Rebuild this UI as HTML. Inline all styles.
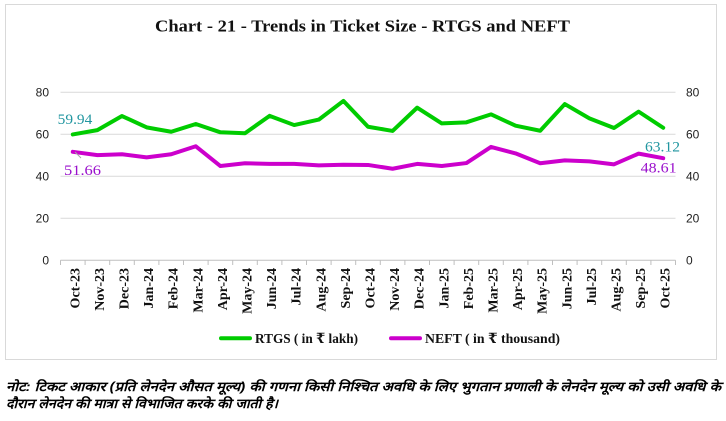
<!DOCTYPE html>
<html>
<head>
<meta charset="utf-8">
<style>
  html,body{margin:0;padding:0;background:#fff;}
  svg{display:block;}
</style>
</head>
<body>
<svg width="726" height="421" viewBox="0 0 726 421" xmlns="http://www.w3.org/2000/svg">
  <rect x="0" y="0" width="726" height="421" fill="#fff"/>
  <!-- chart border -->
  <rect x="5.5" y="4.5" width="711" height="355" fill="#fff" stroke="#d9d9d9" stroke-width="1"/>

  <!-- title -->
  <text x="362.5" y="31.7" text-anchor="middle" font-family="'Liberation Serif', serif" font-weight="bold" font-size="16.5" fill="#111" textLength="415" lengthAdjust="spacingAndGlyphs">Chart - 21 - Trends in Ticket Size - RTGS and NEFT</text>

  <!-- gridlines -->
  <g stroke="#d9d9d9" stroke-width="1">
    <line x1="60.5" y1="92.3" x2="675.5" y2="92.3"/>
    <line x1="60.5" y1="134.3" x2="675.5" y2="134.3"/>
    <line x1="60.5" y1="176.3" x2="675.5" y2="176.3"/>
    <line x1="60.5" y1="218.3" x2="675.5" y2="218.3"/>
  </g>
  <!-- x axis -->
  <g stroke="#bfbfbf" stroke-width="1">
    <line x1="60.5" y1="260.3" x2="675.5" y2="260.3"/>
    <line x1="60.5" y1="260.3" x2="60.5" y2="265"/>
    <line x1="85.1" y1="260.3" x2="85.1" y2="265"/>
    <line x1="109.7" y1="260.3" x2="109.7" y2="265"/>
    <line x1="134.3" y1="260.3" x2="134.3" y2="265"/>
    <line x1="158.9" y1="260.3" x2="158.9" y2="265"/>
    <line x1="183.5" y1="260.3" x2="183.5" y2="265"/>
    <line x1="208.1" y1="260.3" x2="208.1" y2="265"/>
    <line x1="232.7" y1="260.3" x2="232.7" y2="265"/>
    <line x1="257.3" y1="260.3" x2="257.3" y2="265"/>
    <line x1="281.9" y1="260.3" x2="281.9" y2="265"/>
    <line x1="306.5" y1="260.3" x2="306.5" y2="265"/>
    <line x1="331.1" y1="260.3" x2="331.1" y2="265"/>
    <line x1="355.7" y1="260.3" x2="355.7" y2="265"/>
    <line x1="380.3" y1="260.3" x2="380.3" y2="265"/>
    <line x1="404.9" y1="260.3" x2="404.9" y2="265"/>
    <line x1="429.5" y1="260.3" x2="429.5" y2="265"/>
    <line x1="454.1" y1="260.3" x2="454.1" y2="265"/>
    <line x1="478.7" y1="260.3" x2="478.7" y2="265"/>
    <line x1="503.3" y1="260.3" x2="503.3" y2="265"/>
    <line x1="527.9" y1="260.3" x2="527.9" y2="265"/>
    <line x1="552.5" y1="260.3" x2="552.5" y2="265"/>
    <line x1="577.1" y1="260.3" x2="577.1" y2="265"/>
    <line x1="601.7" y1="260.3" x2="601.7" y2="265"/>
    <line x1="626.3" y1="260.3" x2="626.3" y2="265"/>
    <line x1="650.9" y1="260.3" x2="650.9" y2="265"/>
    <line x1="675.5" y1="260.3" x2="675.5" y2="265"/>
  </g>

  <!-- y axis labels -->
  <g font-family="'Liberation Sans', sans-serif" font-size="12" fill="#222">
    <g text-anchor="end">
      <text x="49" y="96.5">80</text>
      <text x="49" y="138.5">60</text>
      <text x="49" y="180.5">40</text>
      <text x="49" y="222.5">20</text>
      <text x="49" y="264.5">0</text>
    </g>
    <g text-anchor="start">
      <text x="686" y="96.5">80</text>
      <text x="686" y="138.5">60</text>
      <text x="686" y="180.5">40</text>
      <text x="686" y="222.5">20</text>
      <text x="686" y="264.5">0</text>
    </g>
  </g>

  <!-- x labels -->
  <g font-family="'Liberation Serif', serif" font-weight="bold" font-size="14" fill="#111" text-anchor="end">
    <text transform="translate(79.3,268) rotate(-90)">Oct-23</text>
    <text transform="translate(103.9,268) rotate(-90)">Nov-23</text>
    <text transform="translate(128.5,268) rotate(-90)">Dec-23</text>
    <text transform="translate(153.1,268) rotate(-90)">Jan-24</text>
    <text transform="translate(177.7,268) rotate(-90)">Feb-24</text>
    <text transform="translate(202.3,268) rotate(-90)">Mar-24</text>
    <text transform="translate(226.9,268) rotate(-90)">Apr-24</text>
    <text transform="translate(251.5,268) rotate(-90)">May-24</text>
    <text transform="translate(276.1,268) rotate(-90)">Jun-24</text>
    <text transform="translate(300.7,268) rotate(-90)">Jul-24</text>
    <text transform="translate(325.3,268) rotate(-90)">Aug-24</text>
    <text transform="translate(349.9,268) rotate(-90)">Sep-24</text>
    <text transform="translate(374.5,268) rotate(-90)">Oct-24</text>
    <text transform="translate(399.1,268) rotate(-90)">Nov-24</text>
    <text transform="translate(423.7,268) rotate(-90)">Dec-24</text>
    <text transform="translate(448.3,268) rotate(-90)">Jan-25</text>
    <text transform="translate(472.9,268) rotate(-90)">Feb-25</text>
    <text transform="translate(497.5,268) rotate(-90)">Mar-25</text>
    <text transform="translate(522.1,268) rotate(-90)">Apr-25</text>
    <text transform="translate(546.7,268) rotate(-90)">May-25</text>
    <text transform="translate(571.3,268) rotate(-90)">Jun-25</text>
    <text transform="translate(595.9,268) rotate(-90)">Jul-25</text>
    <text transform="translate(620.5,268) rotate(-90)">Aug-25</text>
    <text transform="translate(645.1,268) rotate(-90)">Sep-25</text>
    <text transform="translate(669.7,268) rotate(-90)">Oct-25</text>
  </g>

  <!-- series -->
  <polyline fill="none" stroke="#00cc00" stroke-width="4" stroke-linejoin="round" stroke-linecap="round"
    points="72.8,134.43 97.4,130.1 122.0,116.03 146.6,127.37 171.2,131.78 195.8,124.01 220.4,132.3 245.0,133.25 269.6,115.82 294.2,125.06 318.8,119.6 343.4,100.91 368.0,126.74 392.6,130.94 417.2,107.63 441.8,123.38 466.4,122.33 491.0,114.35 515.6,125.69 540.2,130.73 564.8,104.06 589.4,118.34 614.0,128.0 638.6,111.62 663.2,127.75"/>
  <polyline fill="none" stroke="#cc00cc" stroke-width="4" stroke-linejoin="round" stroke-linecap="round"
    points="72.8,151.81 97.4,155.09 122.0,154.25 146.6,157.4 171.2,154.25 195.8,146.27 220.4,166.01 245.0,163.28 269.6,163.91 294.2,163.91 318.8,165.38 343.4,164.75 368.0,164.96 392.6,168.74 417.2,163.91 441.8,166.01 466.4,163.07 491.0,146.9 515.6,153.41 540.2,163.28 564.8,160.34 589.4,161.39 614.0,164.33 638.6,153.62 663.2,158.22"/>

  <!-- leader line -->
  <line x1="75" y1="152" x2="81" y2="158" stroke="#a6a6a6" stroke-width="1"/>

  <!-- data labels -->
  <g font-family="'Liberation Serif', serif" font-size="15">
    <text x="57.7" y="124" fill="#2196a0" textLength="34.6" lengthAdjust="spacingAndGlyphs">59.94</text>
    <text x="64" y="175" fill="#9a10cc" textLength="37" lengthAdjust="spacingAndGlyphs">51.66</text>
    <text x="645" y="151.7" fill="#2196a0" textLength="35" lengthAdjust="spacingAndGlyphs">63.12</text>
    <text x="640.7" y="172.3" fill="#9a10cc" textLength="36" lengthAdjust="spacingAndGlyphs">48.61</text>
  </g>

  <!-- legend -->
  <line x1="221" y1="338.3" x2="250" y2="338.3" stroke="#00cc00" stroke-width="4" stroke-linecap="round"/>
  <line x1="391" y1="338.3" x2="420" y2="338.3" stroke="#cc00cc" stroke-width="4" stroke-linecap="round"/>
  <g font-family="'Liberation Serif', 'DejaVu Serif', serif" font-weight="bold" font-size="14" fill="#111">
    <text x="255" y="343" textLength="103" lengthAdjust="spacingAndGlyphs">RTGS ( in ₹ lakh)</text>
    <text x="425" y="343" textLength="135" lengthAdjust="spacingAndGlyphs">NEFT ( in ₹ thousand)</text>
  </g>

  <!-- footnote -->
  <g font-family="'Liberation Sans', sans-serif" font-weight="bold" font-style="italic" font-size="13" fill="#000">
    <text x="6" y="391" textLength="715" lengthAdjust="spacingAndGlyphs">नोट: टिकट आकार (प्रति लेनदेन औसत मूल्य) की गणना किसी निश्चित अवधि के लिए भुगतान प्रणाली के लेनदेन मूल्य को उसी अवधि के</text>
    <text x="6" y="408" textLength="272" lengthAdjust="spacingAndGlyphs">दौरान लेनदेन की मात्रा से विभाजित करके की जाती है।</text>
  </g>
</svg>
</body>
</html>
